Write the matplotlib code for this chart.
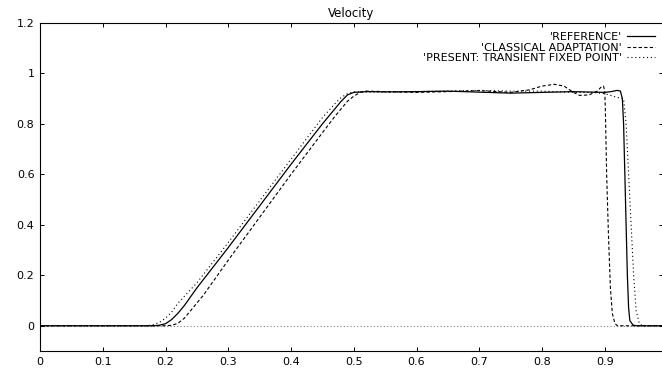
import numpy as np
import matplotlib.pyplot as plt

plt.rcParams['font.family'] = ['DejaVu Sans']

# reference solution (solid)
x_ref = [0.0, 0.18, 0.19, 0.20, 0.21, 0.22, 0.23, 0.25, 0.30, 0.35, 0.40, 0.45,
         0.47, 0.48, 0.49, 0.50, 0.52, 0.55, 0.60, 0.65, 0.70, 0.75, 0.80, 0.85,
         0.88, 0.90, 0.91, 0.92, 0.925, 0.928, 0.930, 0.932, 0.934, 0.936, 0.938,
         0.940, 0.945, 0.95, 0.992]
y_ref = [0.0, 0.0, 0.002, 0.008, 0.025, 0.05, 0.08, 0.15, 0.31, 0.475, 0.64, 0.80,
         0.86, 0.89, 0.915, 0.925, 0.928, 0.927, 0.928, 0.930, 0.926, 0.922, 0.925, 0.928,
         0.926, 0.925, 0.928, 0.933, 0.93, 0.90, 0.80, 0.60, 0.40, 0.20, 0.07,
         0.02, 0.003, 0.0, 0.0]

# classical adaptation (dashed)
x_cla = [0.0, 0.20, 0.21, 0.22, 0.23, 0.24, 0.26, 0.30, 0.35, 0.40, 0.45, 0.47,
         0.48, 0.49, 0.50, 0.51, 0.52, 0.55, 0.60, 0.65, 0.70, 0.75, 0.78, 0.80,
         0.82, 0.835, 0.85, 0.86, 0.875, 0.888, 0.895, 0.898, 0.900, 0.901, 0.903,
         0.906, 0.909, 0.912, 0.916, 0.92, 0.992]
y_cla = [0.0, 0.0, 0.002, 0.01, 0.03, 0.06, 0.12, 0.26, 0.43, 0.60, 0.765, 0.83,
         0.86, 0.89, 0.91, 0.925, 0.93, 0.928, 0.925, 0.928, 0.932, 0.925, 0.935, 0.95,
         0.957, 0.95, 0.925, 0.913, 0.915, 0.93, 0.948, 0.95, 0.93, 0.85, 0.60,
         0.35, 0.15, 0.05, 0.01, 0.0, 0.0]

# present: transient fixed point (dotted)
x_pre = [0.0, 0.17, 0.18, 0.19, 0.20, 0.21, 0.22, 0.25, 0.30, 0.35, 0.40, 0.45,
         0.47, 0.48, 0.49, 0.50, 0.55, 0.60, 0.65, 0.70, 0.75, 0.80, 0.85, 0.88,
         0.90, 0.92, 0.93, 0.934, 0.938, 0.942, 0.946, 0.95, 0.955, 0.96, 0.992]
y_pre = [0.0, 0.0, 0.004, 0.013, 0.03, 0.055, 0.09, 0.17, 0.33, 0.495, 0.66, 0.825,
         0.88, 0.905, 0.92, 0.927, 0.926, 0.928, 0.93, 0.933, 0.93, 0.93, 0.925, 0.925,
         0.92, 0.905, 0.90, 0.80, 0.60, 0.40, 0.20, 0.06, 0.01, 0.0, 0.0]

labels = ["'REFERENCE'", "'CLASSICAL ADAPTATION'", "'PRESENT: TRANSIENT FIXED POINT'"]
x_ticks = [0, 0.1, 0.2, 0.3, 0.4, 0.5, 0.6, 0.7, 0.8, 0.9]
x_ticklabels = ['0', '0.1', '0.2', '0.3', '0.4', '0.5', '0.6', '0.7', '0.8', '0.9']
y_ticks = [0, 0.2, 0.4, 0.6, 0.8, 1.0, 1.2]
y_ticklabels = ['0', '0.2', '0.4', '0.6', '0.8', '1', '1.2']

fig = plt.figure(figsize=(6.62, 3.69), dpi=100)
ax = fig.add_axes([40 / 662, 18 / 369, 622.5 / 662, 328 / 369])

# zero axis like gnuplot
ax.axhline(0, color='#808080', lw=0.8, ls=(0, (1, 2)), zorder=1)

ax.plot(x_ref, y_ref, color='black', lw=0.9, label=labels[0], zorder=3)
ax.plot(x_cla, y_cla, color='black', lw=0.8, ls=(0, (3, 2)), label=labels[1], zorder=2)
ax.plot(x_pre, y_pre, color='black', lw=0.8, ls=(0, (1, 2.5)), label=labels[2], zorder=2)

ax.set_xlim(0, 0.992)
ax.set_ylim(-0.1, 1.2)
ax.set_xticks(x_ticks)
ax.set_xticklabels(x_ticklabels)
ax.set_yticks(y_ticks)
ax.set_yticklabels(y_ticklabels)
ax.tick_params(direction='in', length=3, width=0.7, labelsize=8, pad=4,
               top=True, right=True)
for s in ax.spines.values():
    s.set_linewidth(0.8)

ax.set_title('Velocity', fontsize=8.5, pad=4)

ax.legend(loc='upper right', bbox_to_anchor=(655 / 662, 1 - 32 / 369),
          bbox_transform=fig.transFigure, frameon=False, markerfirst=False,
          fontsize=8, handlelength=2.5, handletextpad=0.5, labelspacing=0.05,
          borderpad=0, borderaxespad=0)

fig.savefig('out.png', dpi=100)
